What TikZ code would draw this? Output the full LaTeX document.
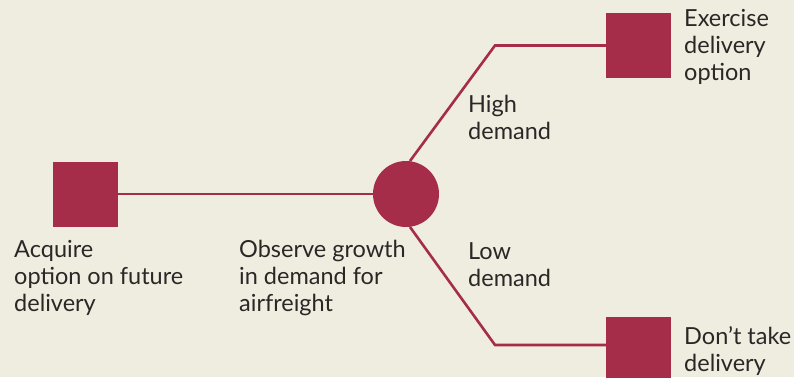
\documentclass[tikz,border=0pt]{standalone}
\usepackage{fontspec}
\setmainfont{Lato}
\definecolor{bg}{HTML}{EFECE0}
\definecolor{wine}{HTML}{A52D4A}
\definecolor{ink}{HTML}{2A2827}
\begin{document}
\begin{tikzpicture}[x=1pt,y=-1pt,
  sq/.style={fill=wine,draw=none,minimum size=65pt,inner sep=0pt},
  chance/.style={circle,fill=wine,draw=none,minimum size=66pt,inner sep=0pt},
  link/.style={draw=wine,line width=2.6pt},
  lbl/.style={font=\fontsize{23.5}{27}\selectfont,text=ink,align=left,anchor=base west,inner sep=0pt}]
\fill[bg] (0,0) rectangle (794,377);
\useasboundingbox (0,0) rectangle (794,377);
\node[sq] (a) at (85.5,194) {};
\node[chance] (c) at (406,194) {};
\node[sq] (e) at (638.5,45.5) {};
\node[sq] (d) at (638.5,349.5) {};
\coordinate (hb) at (495,45.5);
\coordinate (lb) at (495,345);
\coordinate (hs) at (410,161);
\coordinate (ls) at (410,227);
\draw[link] (a.east) -- (c.west);
\draw[link] (hs) -- (hb) -- (e.west |- hb);
\draw[link] (ls) -- (lb) -- (d.west |- lb);
\node[lbl] (t1) at (14,311) {Acquire\\option on future\\delivery};
\node[lbl] (t2) at (239,311) {Observe growth\\in demand for\\airfreight};
\node[lbl] (t3) at (468,139.5) {High\\demand};
\node[lbl] (t4) at (468,286.5) {Low\\demand};
\node[lbl] (t5) at (684,81) {Exercise\\delivery\\option};
\node[lbl] (t6) at (684,371.5) {Don’t take\\delivery};
\end{tikzpicture}
\end{document}
